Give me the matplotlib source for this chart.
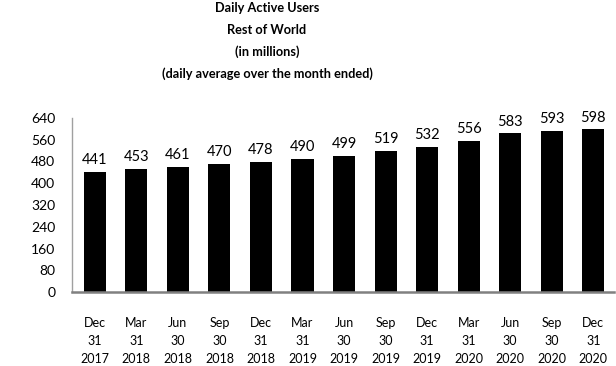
import matplotlib
matplotlib.use("Agg")
import matplotlib.pyplot as plt

plt.rcParams['font.family'] = ['Lato', 'DejaVu Sans']

categories = ["Dec\n31\n2017", "Mar\n31\n2018", "Jun\n30\n2018", "Sep\n30\n2018",
              "Dec\n31\n2018", "Mar\n31\n2019", "Jun\n30\n2019", "Sep\n30\n2019",
              "Dec\n31\n2019", "Mar\n31\n2020", "Jun\n30\n2020", "Sep\n30\n2020",
              "Dec\n31\n2020"]
values = [441, 453, 461, 470, 478, 490, 499, 519, 532, 556, 583, 593, 598]
yticks = [0, 80, 160, 240, 320, 400, 480, 560, 640]
title_lines = ["Daily Active Users", "Rest of World", "(in millions)",
               "(daily average over the month ended)"]

fig = plt.figure(figsize=(6.16, 3.66), dpi=100)
ax = fig.add_axes([72/616, 1-292/366, (614-72)/616, (292-118)/366])

x = list(range(len(values)))
ax.bar(x, values, width=0.53, color='black')
for xi, v in zip(x, values):
    ax.text(xi, v + 18, str(v), ha='center', va='bottom', fontsize=10.5, color='black')

ax.set_xlim(-0.55, len(values) - 0.5)
ax.set_ylim(0, 640)
ax.set_yticks(yticks)
ax.set_yticklabels([str(t) for t in yticks], fontsize=10)
ax.set_xticks(x)
ax.set_xticklabels(categories, fontsize=9, linespacing=1.6)
ax.tick_params(axis='y', length=0, pad=12)
ax.tick_params(axis='x', length=0, pad=18)
for s in ['top', 'right']:
    ax.spines[s].set_visible(False)
ax.spines['left'].set_color('#a0a0a0')
ax.spines['left'].set_linewidth(1.0)
ax.spines['bottom'].set_color('#808080')
ax.spines['bottom'].set_linewidth(1.8)

ys = [7.5, 29.5, 52, 74]
for t, yy in zip(title_lines, ys):
    fig.text(267/616, 1 - yy/366, t, ha='center', va='center', fontsize=9.2,
             fontweight='bold')

fig.savefig("out.png", dpi=100)
